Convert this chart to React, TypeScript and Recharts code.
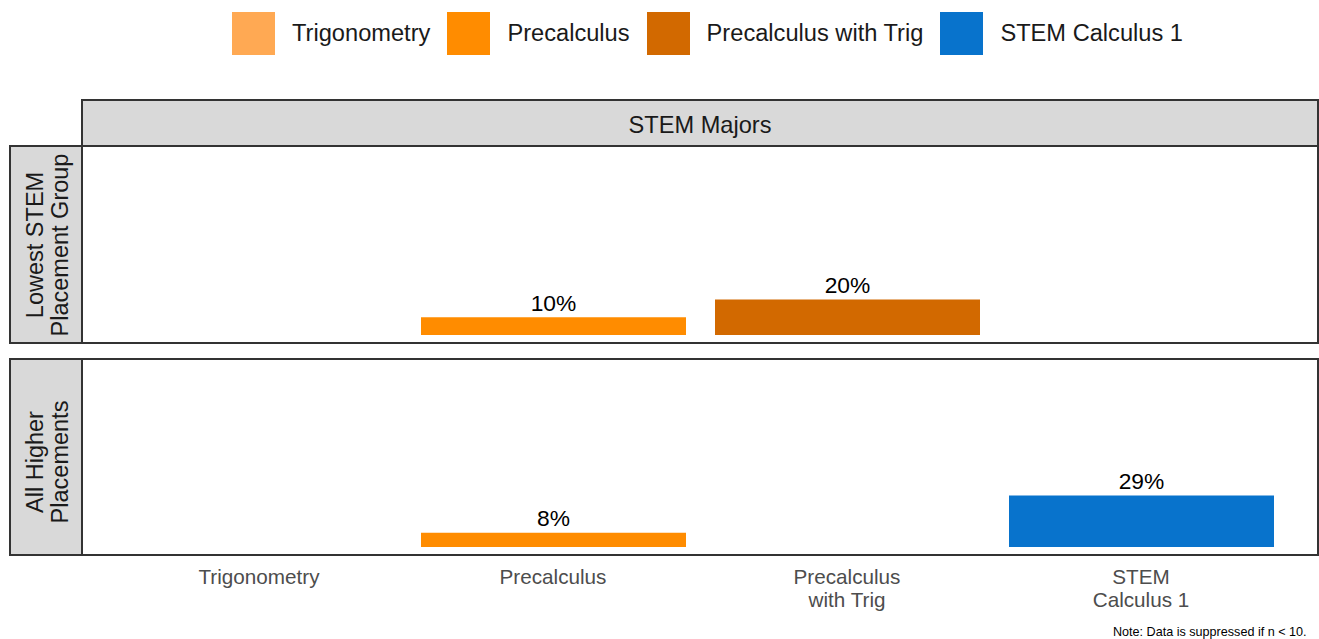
import React from 'react';
import { BarChart, Bar, XAxis, YAxis, Cell, LabelList } from 'recharts';

const categories = ['Trigonometry', 'Precalculus', 'Precalculus with Trig', 'STEM Calculus 1'];
const tickLabels = [['Trigonometry'], ['Precalculus'], ['Precalculus', 'with Trig'], ['STEM', 'Calculus 1']];
const colors = ['#FFA953', '#FF8C00', '#D26900', '#0873CC'];
const lowestGroupValues: (number | null)[] = [null, 0.10, 0.20, null];
const higherGroupValues: (number | null)[] = [null, 0.08, null, 0.29];
const panelTitle = 'STEM Majors';
const rowLabels = [['Lowest STEM', 'Placement Group'], ['All Higher', 'Placements']];
const note = 'Note: Data is suppressed if n < 10.';

const FONT = '"Liberation Sans", Arial, sans-serif';

const buildRows = (vals: (number | null)[]) =>
  categories.map((c, i) => ({ cat: c, value: vals[i] }));

const fmtPct = (v: any) => (v == null ? '' : `${Math.round(Number(v) * 100)}%`);

const Tick = (props: any) => {
  const { x, y, payload } = props;
  const idx = categories.indexOf(payload.value);
  const lines = idx >= 0 ? tickLabels[idx] : [String(payload.value)];
  return (
    <text x={x} y={y} textAnchor="middle" fill="#4D4D4D" fontSize={20.7} fontFamily={FONT}>
      {lines.map((l, i) => (
        <tspan key={i} x={x} dy={i === 0 ? 28 : 23}>
          {l}
        </tspan>
      ))}
    </text>
  );
};

const Panel = ({ values, showAxis, height }: { values: (number | null)[]; showAxis: boolean; height: number }) => (
  <BarChart
    width={1234}
    height={height}
    data={buildRows(values)}
    margin={{ top: 0, right: 0, bottom: 0, left: 0 }}
    style={{ fontFamily: FONT }}
  >
    <XAxis
      dataKey="cat"
      type="category"
      hide={!showAxis}
      height={showAxis ? 70 : 0}
      padding={{ left: 29, right: 29 }}
      axisLine={false}
      tickLine={false}
      tickSize={0}
      tickMargin={0}
      interval={0}
      tick={<Tick />}
    />
    <YAxis hide type="number" domain={[-0.05, 1.05]} allowDataOverflow />
    <Bar dataKey="value" barSize={265} isAnimationActive={false}>
      {values.map((_, i) => (
        <Cell key={i} fill={colors[i]} />
      ))}
      <LabelList
        dataKey="value"
        position="top"
        offset={6.5}
        formatter={fmtPct}
        fill="#000000"
        fontSize={22.8}
        fontFamily={FONT}
      />
    </Bar>
  </BarChart>
);

export default function App() {
  const rowStrips = [
    { y: 146, h: 197, cy: 245 },
    { y: 359, h: 196, cy: 462 },
  ];
  return (
    <div
      style={{
        position: 'absolute',
        left: 0,
        top: 0,
        width: 1319,
        height: 639,
        background: '#fff',
        fontFamily: FONT,
        overflow: 'hidden',
      }}
    >
      {/* Legend */}
      <div style={{ position: 'absolute', left: 232, top: 12, display: 'flex', alignItems: 'center', height: 43 }}>
        {categories.map((c, i) => (
          <div key={c} style={{ display: 'flex', alignItems: 'center' }}>
            <div style={{ width: 43, height: 43, background: colors[i] }} />
            <div
              style={{
                marginLeft: 17,
                marginRight: 17,
                fontSize: 23.65,
                color: '#1A1A1A',
                whiteSpace: 'nowrap',
                lineHeight: '43px',
              }}
            >
              {c}
            </div>
          </div>
        ))}
      </div>

      <div style={{ position: 'absolute', left: 83, top: 148 }}>
        <Panel values={lowestGroupValues} showAxis={false} height={196} />
      </div>
      <div style={{ position: 'absolute', left: 83, top: 360 }}>
        <Panel values={higherGroupValues} showAxis={true} height={266} />
      </div>

      <svg
        width={1319}
        height={639}
        style={{ position: 'absolute', left: 0, top: 0, pointerEvents: 'none' }}
        fontFamily={FONT}
      >
        <rect x={82} y={100} width={1236} height={46} fill="#D9D9D9" stroke="#333333" strokeWidth={2} />
        <text x={700} y={132.5} textAnchor="middle" fontSize={23.6} fill="#1A1A1A">
          {panelTitle}
        </text>
        <rect x={82} y={146} width={1236} height={197} fill="none" stroke="#333333" strokeWidth={2} />
        <rect x={82} y={359} width={1236} height={196} fill="none" stroke="#333333" strokeWidth={2} />
        {rowStrips.map((r, i) => (
          <g key={i}>
            <rect x={10} y={r.y} width={72} height={r.h} fill="#D9D9D9" stroke="#333333" strokeWidth={2} />
            <text transform={`translate(46, ${r.cy}) rotate(-90)`} textAnchor="middle" fontSize={23.5} fill="#1A1A1A">
              <tspan x={0} y={-3.3}>
                {rowLabels[i][0]}
              </tspan>
              <tspan x={0} y={21.7}>
                {rowLabels[i][1]}
              </tspan>
            </text>
          </g>
        ))}
        <text x={1113} y={636} fontSize={12.6} fill="#000000">
          {note}
        </text>
      </svg>
    </div>
  );
}
